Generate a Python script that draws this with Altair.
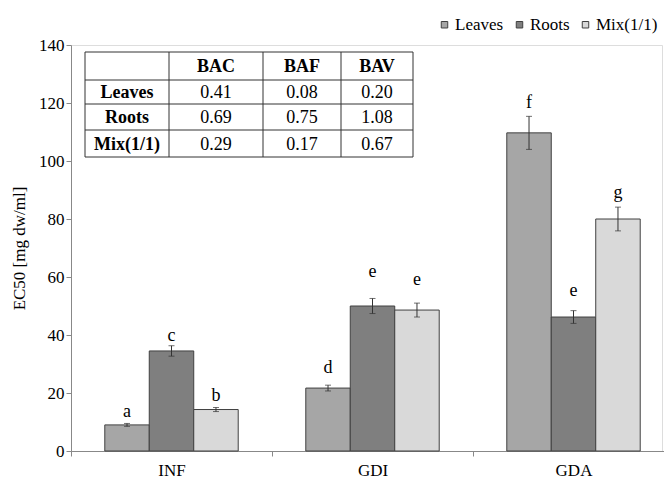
import altair as alt
import pandas as pd

# ---- data ----
categories = ["INF", "GDI", "GDA"]
series = ["Leaves", "Roots", "Mix(1/1)"]
colors = ["#a6a6a6", "#7f7f7f", "#d9d9d9"]

leaves_mean = [9.0, 21.7, 109.7]
roots_mean = [34.5, 50.0, 46.2]
mix_mean = [14.3, 48.6, 80.0]
leaves_err = [0.5, 1.0, 5.7]
roots_err = [1.8, 2.6, 2.2]
mix_err = [0.7, 2.4, 4.1]
leaves_letters = ["a", "d", "f"]
roots_letters = ["c", "e", "e"]
mix_letters = ["b", "e", "g"]
leaves_letter_y = [13.4, 28.6, 120.0]
roots_letter_y = [39.7, 61.7, 55.2]
mix_letter_y = [19.0, 59.0, 89.0]

table_cols = ["BAC", "BAF", "BAV"]
table_rows = ["Leaves", "Roots", "Mix(1/1)"]
table_leaves = ["0.41", "0.08", "0.20"]
table_roots = ["0.69", "0.75", "1.08"]
table_mix = ["0.29", "0.17", "0.67"]

# ---- build table ----
means = [leaves_mean, roots_mean, mix_mean]
errs = [leaves_err, roots_err, mix_err]
letters = [leaves_letters, roots_letters, mix_letters]
letter_ys = [leaves_letter_y, roots_letter_y, mix_letter_y]
rows = []
for si, s in enumerate(series):
    for ci, c in enumerate(categories):
        m = means[si][ci]
        e = errs[si][ci]
        rows.append(dict(cat=c, series=s, mean=m, lo=m - e, hi=m + e,
                         letter=letters[si][ci], ly=letter_ys[si][ci]))
df = pd.DataFrame(rows)

FONT = "Liberation Serif"
W, H = 591, 406

x_enc = alt.X("cat:N", sort=categories,
              scale=alt.Scale(range=[0, 603], paddingInner=0, paddingOuter=0),
              axis=alt.Axis(title=None, labelAngle=0, tickBand="extent", tickSize=5,
                            tickColor="#888888", domainColor="#888888",
                            labelFont=FONT, labelFontSize=17, labelColor="black",
                            labelPadding=6, labelBaseline="top"))
xo_enc = alt.XOffset("series:N", sort=series,
                     scale=alt.Scale(paddingInner=0, paddingOuter=0.76))
y_scale = alt.Scale(domain=[0, 140], nice=False)

base = alt.Chart(df)

bars = base.mark_bar(stroke="#404040", strokeWidth=1).encode(
    x=x_enc, xOffset=xo_enc,
    y=alt.Y("mean:Q", scale=y_scale,
            axis=alt.Axis(values=list(range(0, 141, 20)), title="EC50 [mg dw/ml]",
                          grid=False, domainColor="#888888", tickColor="#888888",
                          tickSize=5, labelFont=FONT, labelFontSize=17,
                          labelColor="black", labelPadding=2,
                          titleFont=FONT, titleFontSize=17, titleFontWeight="normal",
                          titleColor="black", titlePadding=10)),
    color=alt.Color("series:N", sort=series,
                    scale=alt.Scale(domain=series, range=colors),
                    legend=alt.Legend(title=None, orient="none", direction="horizontal",
                                      legendX=365, legendY=-29, symbolType="square",
                                      symbolSize=42, symbolStrokeColor="#404040",
                                      symbolStrokeWidth=1, labelFont=FONT,
                                      labelFontSize=17, labelColor="black",
                                      labelOffset=2, columnPadding=7, padding=0)),
)

err_rule = base.mark_rule(color="#333333", strokeWidth=1).encode(
    x=alt.X("cat:N", sort=categories), xOffset=alt.XOffset("series:N", sort=series),
    y=alt.Y("lo:Q"), y2="hi:Q",
)
cap_lo = base.mark_tick(color="#333333", thickness=1, size=6).encode(
    x=alt.X("cat:N", sort=categories), xOffset=alt.XOffset("series:N", sort=series),
    y=alt.Y("lo:Q"),
)
cap_hi = base.mark_tick(color="#333333", thickness=1, size=6).encode(
    x=alt.X("cat:N", sort=categories), xOffset=alt.XOffset("series:N", sort=series),
    y=alt.Y("hi:Q"),
)
letter_text = base.mark_text(font=FONT, fontSize=18, baseline="middle",
                             align="center", color="black").encode(
    x=alt.X("cat:N", sort=categories), xOffset=alt.XOffset("series:N", sort=series),
    y=alt.Y("ly:Q"), text="letter:N",
)

# ---- inset table (layout in plot pixels) ----
col_edges = [14, 98, 192, 270, 342]
row_edges = [7, 35, 59, 85, 112]
one = alt.Data(values=[{"a": 1}])
table_layers = []
for xe in col_edges:
    table_layers.append(alt.Chart(one).mark_rule(color="#333333", strokeWidth=1).encode(
        x=alt.value(xe), y=alt.value(row_edges[0]), y2=alt.value(row_edges[-1])))
for ye in row_edges:
    table_layers.append(alt.Chart(one).mark_rule(color="#333333", strokeWidth=1).encode(
        x=alt.value(col_edges[0]), x2=alt.value(col_edges[-1]), y=alt.value(ye)))

cells = []
for j, h in enumerate(table_cols):
    cells.append((h, j + 1, 0, "bold"))
for i, r in enumerate(table_rows):
    cells.append((r, 0, i + 1, "bold"))
for i, vals in enumerate([table_leaves, table_roots, table_mix]):
    for j, v in enumerate(vals):
        cells.append((v, j + 1, i + 1, "normal"))
for txt, cj, ri, wt in cells:
    cx = (col_edges[cj] + col_edges[cj + 1]) / 2
    cy = (row_edges[ri] + row_edges[ri + 1]) / 2 + 1
    table_layers.append(alt.Chart(one).mark_text(
        text=txt, font=FONT, fontSize=18, fontWeight=wt, color="black",
        align="center", baseline="middle").encode(x=alt.value(cx), y=alt.value(cy)))

chart = alt.layer(bars, err_rule, cap_lo, cap_hi, letter_text, *table_layers).properties(
    width=W, height=H,
    autosize=alt.AutoSizeParams(type="none"),
    padding={"left": 71, "top": 45, "right": 2, "bottom": 29},
).configure_view(stroke=None).configure(background="white", font=FONT
).configure_axis(labelFont=FONT, titleFont=FONT
).configure_legend(labelFont=FONT)

chart.save("out.html", embed_options={"renderer": "svg", "actions": False})
